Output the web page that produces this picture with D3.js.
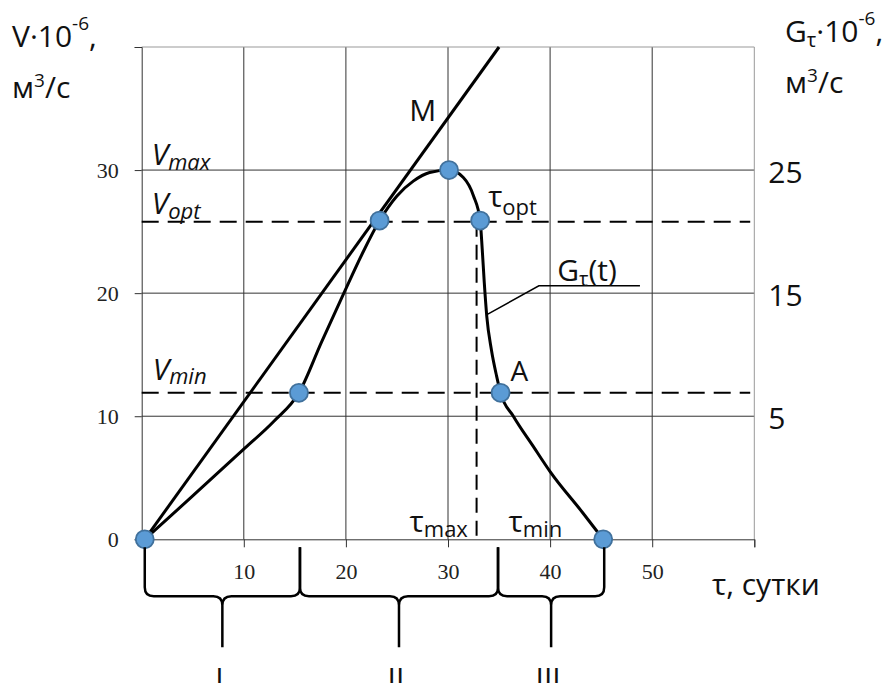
<!DOCTYPE html>
<html>
<head>
<meta charset="utf-8">
<script src="https://cdn.jsdelivr.net/npm/d3@7"></script>
<style>
  body { margin: 0; background: #fff; }
  svg { display: block; }
</style>
</head>
<body>
<svg id="chart" width="896" height="683"></svg>
<script>
const svg = d3.select("#chart");

const width = 896;
const height = 683;
const marginTop = 47;
const marginRight = 141.7;
const marginBottom = 143.7;
const marginLeft = 141.7;

// days / flow
const tDays = [0.3, 4.7, 10.1, 12.9, 15.4, 17.6, 19.8, 21.6, 23.3, 25.0, 26.6, 28.2, 30.1,
               31.5, 32.5, 33.15, 33.35, 33.55, 33.8, 34.25, 34.75, 35.15, 36.4, 38.35, 40.0, 43.25, 45.2];
const vFlow = [0, 3.3, 7.4, 9.55, 11.9, 16.0, 20.0, 23.2, 25.9, 27.9, 29.1, 29.8, 30.0,
               29.4, 27.9, 25.9, 23.6, 20.9, 18.1, 15.4, 13.3, 11.9, 10.0, 7.55, 5.5, 2.1, 0];

const markerT = [0.3, 15.4, 23.3, 30.1, 33.15, 35.15, 45.2];
const markerV = [0, 11.9, 25.9, 30.0, 25.9, 11.9, 0];

// straight line through the origin (point M)
const lineT = [0.3, 35.0];
const lineV = [0, 40];

const V_MAX = 30;
const V_OPT = 25.8;
const V_MIN = 11.9;
const T_MAX = 32.8;

const xTicks = [0, 10, 20, 30, 40, 50, 60];
const xTickLabels = ["", "10", "20", "30", "40", "50", ""];
const yTicks = [0, 10, 20, 30, 40];
const yTickLabels = ["0", "10", "20", "30", ""];
const gTicks = [5, 15, 25];

const braceEdges = [0.3, 15.5, 34.9, 45.3];
const braceLabels = ["I", "II", "III"];

const leaderT = [33.9, 38.9, 48.8];
const leaderV = [18.3, 20.6, 20.6];

const x = d3.scaleLinear()
    .domain([0, 60])
    .range([marginLeft, width - marginRight]);

const y = d3.scaleLinear()
    .domain([0, 40])
    .range([height - marginBottom, marginTop]);

// right axis is V shifted by 5
const yG = d3.scaleLinear()
    .domain([-5, 35])
    .range([height - marginBottom, marginTop]);

const sans = "'Open Sans', 'Noto Sans', sans-serif";
const serif = "'Liberation Serif', 'DejaVu Serif', serif";

// grid
svg.append("g")
  .selectAll("line")
  .data([10, 20, 30, 40, 50])
  .join("line")
    .attr("x1", d => x(d)).attr("x2", d => x(d))
    .attr("y1", y(0)).attr("y2", y(40))
    .attr("stroke", "#333").attr("stroke-width", 1);

svg.append("g")
  .selectAll("line")
  .data([10, 20, 30])
  .join("line")
    .attr("x1", x(0)).attr("x2", x(60))
    .attr("y1", d => y(d)).attr("y2", d => y(d))
    .attr("stroke", "#333").attr("stroke-width", 1);

// frame top/right
svg.append("path")
    .attr("d", `M${x(0)},${y(40)}H${x(60)}V${y(0)}`)
    .attr("fill", "none")
    .attr("stroke", "#999")
    .attr("stroke-width", 1);

// axes
const xAxis = svg.append("g")
    .attr("transform", `translate(0,${y(0)})`)
    .call(d3.axisBottom(x).tickValues(xTicks).tickSize(8).tickPadding(16)
      .tickFormat((d, i) => xTickLabels[i]));

const yAxis = svg.append("g")
    .attr("transform", `translate(${x(0)},0)`)
    .call(d3.axisLeft(y).tickValues(yTicks).tickSize(7).tickPadding(16)
      .tickFormat((d, i) => yTickLabels[i]));

[xAxis, yAxis].forEach(g => {
  g.select(".domain").attr("stroke", "#333");
  g.selectAll(".tick line").attr("stroke", "#333");
  g.selectAll("text")
    .attr("font-family", serif)
    .attr("font-size", 22)
    .attr("fill", "#222");
});

const gAxis = svg.append("g")
    .attr("transform", `translate(${x(60)},0)`)
    .call(d3.axisRight(yG).tickValues(gTicks).tickSize(0).tickPadding(14));
gAxis.select(".domain").remove();
gAxis.selectAll("text")
    .attr("font-family", sans)
    .attr("font-size", 30)
    .attr("dy", "0.4em")
    .attr("fill", "#111");

// dashed levels
const dash = "17 9";
svg.append("g")
  .selectAll("line")
  .data([V_OPT, V_MIN])
  .join("line")
    .attr("x1", x(0)).attr("x2", x(59.6))
    .attr("y1", d => y(d)).attr("y2", d => y(d))
    .attr("stroke", "#000").attr("stroke-width", 2)
    .attr("stroke-dasharray", dash);

svg.append("line")
    .attr("x1", x(T_MAX)).attr("x2", x(T_MAX))
    .attr("y1", y(V_OPT)).attr("y2", y(0))
    .attr("stroke", "#000").attr("stroke-width", 2)
    .attr("stroke-dasharray", "15 8");

// tangent line
svg.append("path")
    .datum(d3.zip(lineT, lineV))
    .attr("d", d3.line().x(d => x(d[0])).y(d => y(d[1])))
    .attr("fill", "none")
    .attr("stroke", "#000")
    .attr("stroke-width", 3);

// G(t) curve
svg.append("path")
    .datum(d3.zip(tDays, vFlow))
    .attr("d", d3.line().curve(d3.curveMonotoneX).x(d => x(d[0])).y(d => y(d[1])))
    .attr("fill", "none")
    .attr("stroke", "#000")
    .attr("stroke-width", 3);

// leader for G(t)
svg.append("path")
    .datum(d3.zip(leaderT, leaderV))
    .attr("d", d3.line().x(d => x(d[0])).y(d => y(d[1])))
    .attr("fill", "none")
    .attr("stroke", "#000")
    .attr("stroke-width", 1.5);

// markers
svg.append("g")
  .selectAll("circle")
  .data(d3.zip(markerT, markerV))
  .join("circle")
    .attr("cx", d => x(d[0]))
    .attr("cy", d => y(d[1]))
    .attr("r", 9)
    .attr("fill", "#5b9bd5")
    .attr("stroke", "#41719c")
    .attr("stroke-width", 1.8);

// braces under the axis
const yTop = y(0) + 8, yMid = y(0) + 57, yTip = y(0) + 108, r = 9;
function bracePath(a, b) {
  const x0 = x(a), x1 = x(b), xc = (x0 + x1) / 2;
  return `M${x0},${yTop}L${x0},${yMid - r}Q${x0},${yMid} ${x0 + r},${yMid}` +
         `L${xc - r},${yMid}Q${xc},${yMid} ${xc},${yMid + r}L${xc},${yTip}` +
         `M${x1},${yTop}L${x1},${yMid - r}Q${x1},${yMid} ${x1 - r},${yMid}` +
         `L${xc + r},${yMid}Q${xc},${yMid} ${xc},${yMid + r}`;
}
const braces = braceLabels.map((s, i) => ({ a: braceEdges[i], b: braceEdges[i + 1], s }));

svg.append("g")
  .selectAll("path")
  .data(braces)
  .join("path")
    .attr("d", d => bracePath(d.a, d.b))
    .attr("fill", "none")
    .attr("stroke", "#000")
    .attr("stroke-width", 2.5);

svg.append("g")
  .selectAll("text")
  .data(braces)
  .join("text")
    .attr("x", d => (x(d.a) + x(d.b)) / 2 - 3)
    .attr("y", y(0) + 150)
    .attr("text-anchor", "middle")
    .attr("font-family", sans)
    .attr("font-size", 30)
    .attr("fill", "#111")
    .text(d => d.s);

// text helpers
function label(px, py, parts, opts = {}) {
  const t = svg.append("text")
      .attr("x", px).attr("y", py)
      .attr("font-family", sans)
      .attr("fill", "#111")
      .attr("font-style", opts.italic ? "italic" : null);
  parts.forEach(p => {
    t.append("tspan")
        .attr("font-size", p[1])
        .attr("dy", p[2] || 0)
        .text(p[0]);
  });
  return t;
}

// level names
label(x(0) + 10, y(V_MAX) - 5, [["V", 30], ["max", 22, 5]], { italic: true });
label(x(0) + 10, y(V_OPT) - 8, [["V", 30], ["opt", 22, 5]], { italic: true });
label(x(0) + 11, y(V_MIN) - 13, [["V", 30], ["min", 22, 4]], { italic: true });

// point names
label(x(26.2), y(34), [["M", 30]]);
label(x(markerT[4]) + 8, y(markerV[4]) - 14, [["τ", 30], ["opt", 22, 8]]);
label(x(markerT[5]) + 10, y(markerV[5]) - 12, [["A", 28]]);
label(x(T_MAX) - 67, y(0) - 7, [["τ", 30], ["max", 22, 5]]);
label(x(T_MAX) + 32, y(0) - 7, [["τ", 30], ["min", 22, 5]]);
label(x(40.7), y(20.9) - 1, [["G", 30], ["τ", 20, 5], ["(t)", 30, -5]]);

// axis titles
label(12, 47, [["V·10", 30], ["-6", 19, -17], [",", 30, 17]]);
label(12, 98, [["м", 30], ["3", 19, -11], ["/с", 30, 11]]);
label(785, 42, [["G", 30], ["τ", 20, 5], ["·10", 30, -5], ["-6", 19, -17], [",", 30, 17]]);
label(785, 93, [["м", 30], ["3", 19, -11], ["/с", 30, 11]]);
label(712, 595, [["τ, сутки", 30]]);
</script>
</body>
</html>
